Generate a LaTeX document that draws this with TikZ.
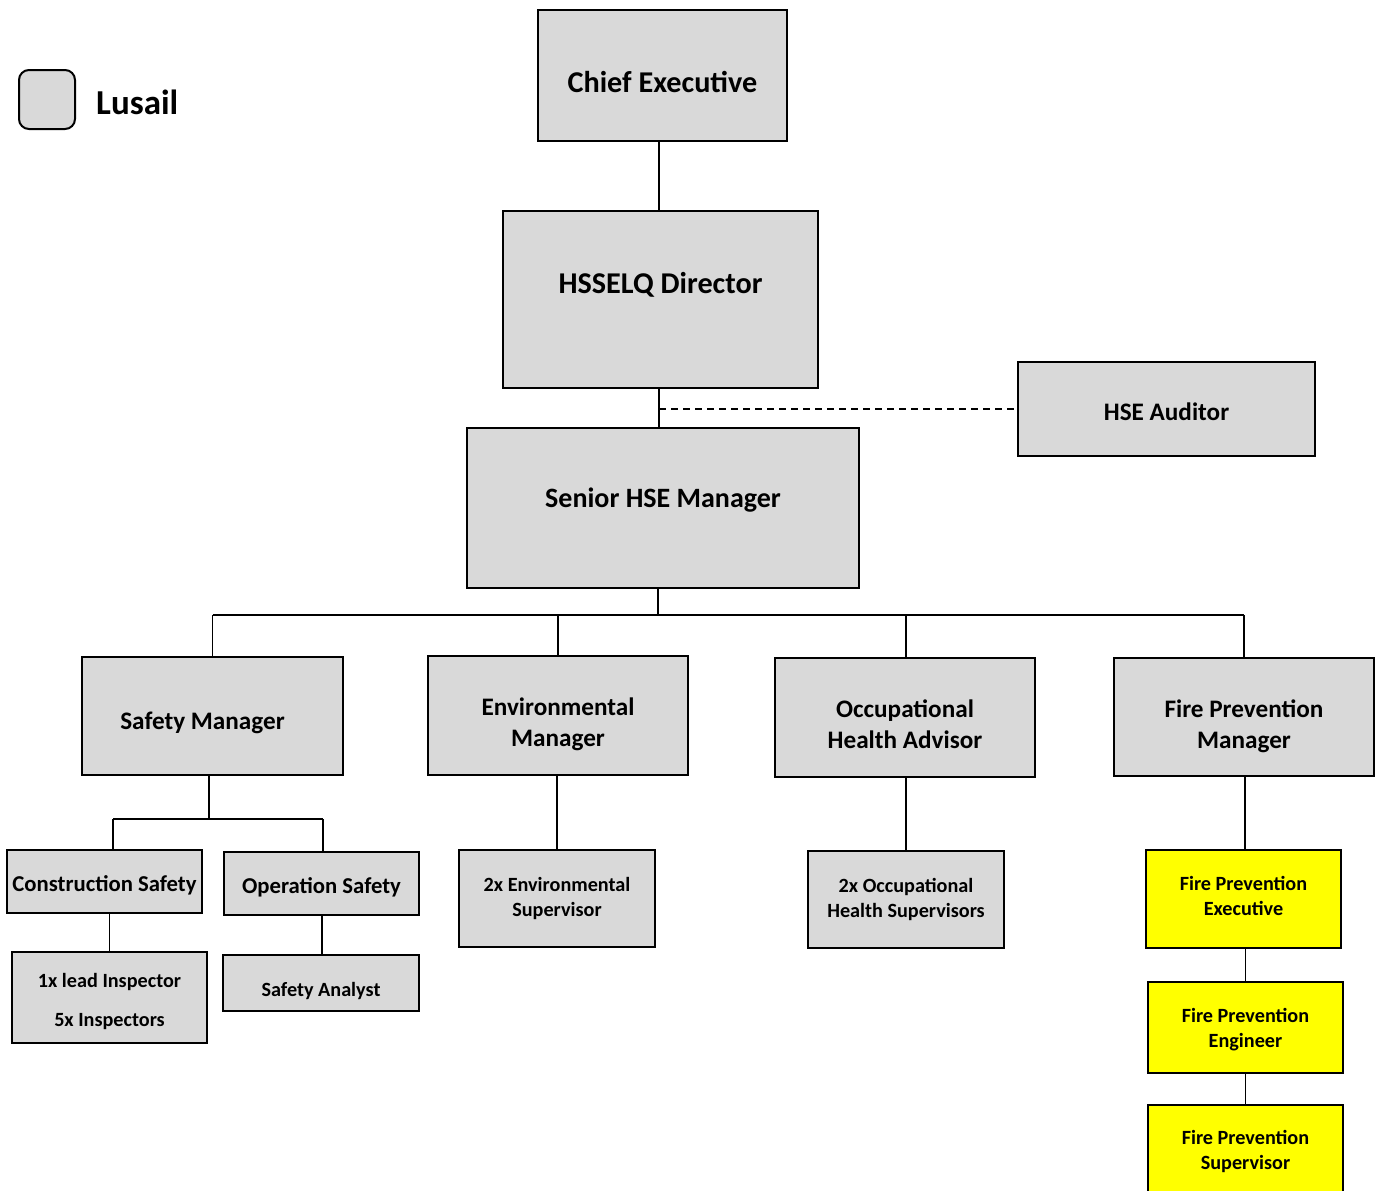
\documentclass[tikz,border=0pt]{standalone}
\usepackage{fontspec}
\setmainfont{Carlito}
\usetikzlibrary{calc}
\definecolor{boxgray}{RGB}{217,217,217}
\definecolor{fpyellow}{RGB}{255,255,0}
\tikzset{
  box/.style={draw=black, line width=2.2pt, fill=boxgray, inner sep=0pt},
  ybox/.style={box, fill=fpyellow},
  conn/.style={line width=1.5pt, draw=black},
  bigf/.style={inner sep=0pt, align=center, font=\fontsize{30.2}{35}\selectfont\bfseries},
  sbigf/.style={inner sep=0pt, align=center, font=\fontsize{28}{33}\selectfont\bfseries},
  midf/.style={inner sep=0pt, align=center, font=\fontsize{25.2}{31}\selectfont\bfseries},
  csf/.style={inner sep=0pt, align=center, font=\fontsize{22.7}{27}\selectfont\bfseries},
  smf/.style={inner sep=0pt, align=center, font=\fontsize{20.2}{24.5}\selectfont\bfseries},
}
\begin{document}
\begin{tikzpicture}[x=1pt,y=-1pt]
\useasboundingbox (0,0) rectangle (1376,1191);
% legend
\node[draw=black, line width=2pt, fill=boxgray, rounded corners=10pt, minimum width=56pt, minimum height=59pt, inner sep=0pt] (leg) at (47,99.5) {};
\node[anchor=west, inner sep=0pt, font=\fontsize{35}{40}\selectfont\bfseries] (legt) at (96,102) {Lusail};
% top chain
\node[box, minimum width=249pt, minimum height=131pt,
  label={[bigf, name=cet, yshift=-6.5pt]center:Chief Executive}] (ce) at (662.5,75.5) {};
\node[box, minimum width=315pt, minimum height=177pt,
  label={[bigf, name=hdt, yshift=14.5pt]center:HSSELQ Director}] (hd) at (660.5,299.5) {};
\node[box, minimum width=297pt, minimum height=94pt,
  label={[midf, name=hset, yshift=-3pt]center:HSE Auditor}] (hse) at (1166.5,409) {};
\node[box, minimum width=392pt, minimum height=160pt,
  label={[sbigf, name=smt, yshift=8pt]center:Senior HSE Manager}] (sm) at (663,508) {};
% managers
\node[box, minimum width=261pt, minimum height=118pt,
  label={[midf, name=saft, yshift=-7pt, xshift=-10pt]center:Safety Manager}] (saf) at (212.5,716) {};
\node[box, minimum width=260pt, minimum height=119pt,
  label={[midf, name=envt, yshift=-9pt]center:Environmental\\Manager}] (env) at (558,715.5) {};
\node[box, minimum width=260pt, minimum height=119pt,
  label={[midf, name=ohat, yshift=-7pt]center:Occupational\\Health Advisor}] (oha) at (905,717.5) {};
\node[box, minimum width=260pt, minimum height=118pt,
  label={[midf, name=fpmt, yshift=-9pt]center:Fire Prevention\\Manager}] (fpm) at (1244,717) {};
% safety branch
\node[box, minimum width=195pt, minimum height=63pt,
  label={[csf, name=cst, yshift=-4pt]center:Construction Safety}] (cs) at (104.5,881.5) {};
\node[box, minimum width=195pt, minimum height=63pt,
  label={[csf, name=ost, yshift=-4pt]center:Operation Safety}] (os) at (321.5,883.5) {};
\node[box, minimum width=195pt, minimum height=91pt,
  label={[smf, font=\fontsize{20.2}{39}\selectfont\bfseries, name=inst, yshift=-4pt]center:1x lead Inspector\\5x Inspectors}] (ins) at (109.5,997.5) {};
\node[box, minimum width=196pt, minimum height=56pt,
  label={[smf, name=sat, yshift=-8pt]center:Safety Analyst}] (sa) at (321,983) {};
% env / oha
\node[box, minimum width=196pt, minimum height=97pt,
  label={[smf, name=est]center:2x Environmental\\Supervisor}] (es) at (557,898.5) {};
\node[box, minimum width=196pt, minimum height=97pt,
  label={[smf, name=ohst]center:2x Occupational\\Health Supervisors}] (ohs) at (906,899.5) {};
% fire branch
\node[ybox, minimum width=195pt, minimum height=98pt,
  label={[smf, name=fpet, yshift=3pt]center:Fire Prevention\\Executive}] (fpe) at (1243.5,899) {};
\node[ybox, minimum width=195pt, minimum height=91pt,
  label={[smf, name=fpgt, yshift=-2pt]center:Fire Prevention\\Engineer}] (fpg) at (1245.5,1027.5) {};
\node[ybox, minimum width=195pt, minimum height=100pt,
  label={[smf, name=fpst, yshift=3.5pt]center:Fire Prevention\\Supervisor}] (fps) at (1245.5,1155) {};
% connectors
\coordinate (bus) at (0,615);
\coordinate (sbus) at (0,819);
\draw[conn] ([xshift=-3.5pt]ce.south) -- ([xshift=-3.5pt]ce.south |- hd.north);
\draw[conn] ([xshift=-1.5pt]hd.south) -- ([xshift=-1.5pt]hd.south |- sm.north);
\draw[conn, dashed, dash pattern=on 7pt off 5pt] ([xshift=-1.5pt]hd.south |- hse.west) -- (hse.west);
\draw[conn] ([xshift=-5pt]sm.south) -- ([xshift=-5pt]sm.south |- bus);
\draw[conn] (saf.north |- bus) -- (fpm.north |- bus);
\draw[conn] (saf.north) -- (saf.north |- bus);
\draw[conn] (env.north) -- (env.north |- bus);
\draw[conn] ([xshift=1pt]oha.north) -- ([xshift=1pt]oha.north |- bus);
\draw[conn] (fpm.north) -- (fpm.north |- bus);
\draw[conn] ([xshift=-3.5pt]saf.south) -- ([xshift=-3.5pt]saf.south |- sbus);
\draw[conn] ([xshift=8.5pt]cs.north |- sbus) -- ([xshift=1.5pt]os.north |- sbus);
\draw[conn] ([xshift=8.5pt]cs.north) -- ([xshift=8.5pt]cs.north |- sbus);
\draw[conn] ([xshift=1.5pt]os.north) -- ([xshift=1.5pt]os.north |- sbus);
\draw[conn] (ins.north) -- (ins.north |- cs.south);
\draw[conn] ([xshift=0.5pt]os.south) -- ([xshift=0.5pt]os.south |- sa.north);
\draw[conn] (es.north) -- (es.north |- env.south);
\draw[conn] (ohs.north) -- (ohs.north |- oha.south);
\draw[conn] ([xshift=1.5pt]fpe.north) -- ([xshift=1.5pt]fpe.north |- fpm.south);
\draw[conn] (fpg.north) -- (fpg.north |- fpe.south);
\draw[conn] (fps.north) -- (fps.north |- fpg.south);
\end{tikzpicture}
\end{document}
